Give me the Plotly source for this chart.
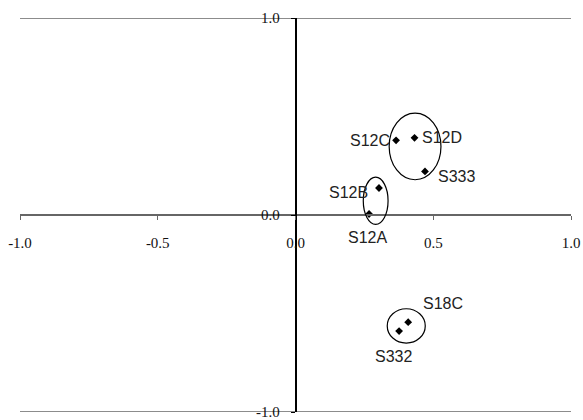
import plotly.graph_objects as go

# Data
names = ["S12A", "S12B", "S12C", "S12D", "S333", "S18C", "S332"]
x_vals = [0.267, 0.303, 0.365, 0.432, 0.470, 0.409, 0.376]
y_vals = [0.005, 0.137, 0.379, 0.392, 0.221, -0.544, -0.589]

x_ticks = [-1.0, -0.5, 0.0, 0.5, 1.0]
x_tick_labels = ["-1.0", "-0.5", "0.0", "0.5", "1.0"]
y_ticks = [-1.0, 0.0, 1.0]
y_tick_labels = ["-1.0", "0.0", "1.0"]

# label placement (anchor, xshift, yshift) per point
label_anchor = ["center", "right", "right", "left", "left", "left", "center"]
label_xshift = [-2, -9, -4, 5, 11, 13, -6]
label_yshift = [-23, -4, 0, 0, -5, 19, -25]

# group ellipses: (x0, x1, y0, y1)
ellipse_x0 = [0.246, 0.340, 0.333]
ellipse_x1 = [0.336, 0.528, 0.471]
ellipse_y0 = [-0.048, 0.179, -0.650]
ellipse_y1 = [0.192, 0.517, -0.476]

fig = go.Figure()

# horizontal gridlines at the y tick values
for yv in y_ticks:
    fig.add_shape(type="line", xref="paper", yref="y", x0=0, x1=1, y0=yv, y1=yv,
                  line=dict(color="#8c8c8c", width=2), layer="below")

fig.add_trace(go.Scatter(
    x=x_vals, y=y_vals, mode="markers",
    marker=dict(symbol="diamond", size=6, color="black"),
    cliponaxis=False, hoverinfo="text", text=names,
))

for n, xv, yv, a, xs, ys in zip(names, x_vals, y_vals, label_anchor, label_xshift, label_yshift):
    fig.add_annotation(x=xv, y=yv, text=n, showarrow=False, xanchor=a, yanchor="middle",
                       xshift=xs, yshift=ys,
                       font=dict(family="Liberation Sans", size=16, color="#222"))

for x0, x1, y0, y1 in zip(ellipse_x0, ellipse_x1, ellipse_y0, ellipse_y1):
    fig.add_shape(type="circle", xref="x", yref="y", x0=x0, x1=x1, y0=y0, y1=y1,
                  line=dict(color="black", width=1.2))

tickfont = dict(family="Liberation Serif", size=15, color="#111")

fig.update_layout(
    width=583, height=420,
    margin=dict(l=20, r=12, t=18, b=8, autoexpand=False),
    plot_bgcolor="white", paper_bgcolor="white",
    showlegend=False,
    xaxis=dict(range=[-1, 1], tickvals=x_ticks, ticktext=x_tick_labels,
               anchor="free", position=0.5, showgrid=False, zeroline=False,
               showline=True, linecolor="#666", linewidth=2,
               ticks="outside", ticklen=4, tickcolor="#666", tickwidth=1,
               tickfont=tickfont, ticklabelstandoff=10, automargin=False,
               ticklabeloverflow="allow"),
    yaxis=dict(range=[-1, 1], tickvals=y_ticks, ticktext=y_tick_labels,
               anchor="free", position=0.5, showgrid=False,
               zeroline=False, showline=True, linecolor="black", linewidth=1.5,
               ticks="outside", ticklen=4, tickcolor="black", tickwidth=1,
               tickfont=tickfont, ticklabelstandoff=8, automargin=False,
               ticklabeloverflow="allow"),
)

fig.write_html("out.html",
               config={"displayModeBar": False},
               post_script="document.body.style.margin='0';"
                           "document.documentElement.style.overflow='hidden';"
                           "document.body.style.overflow='hidden';")
